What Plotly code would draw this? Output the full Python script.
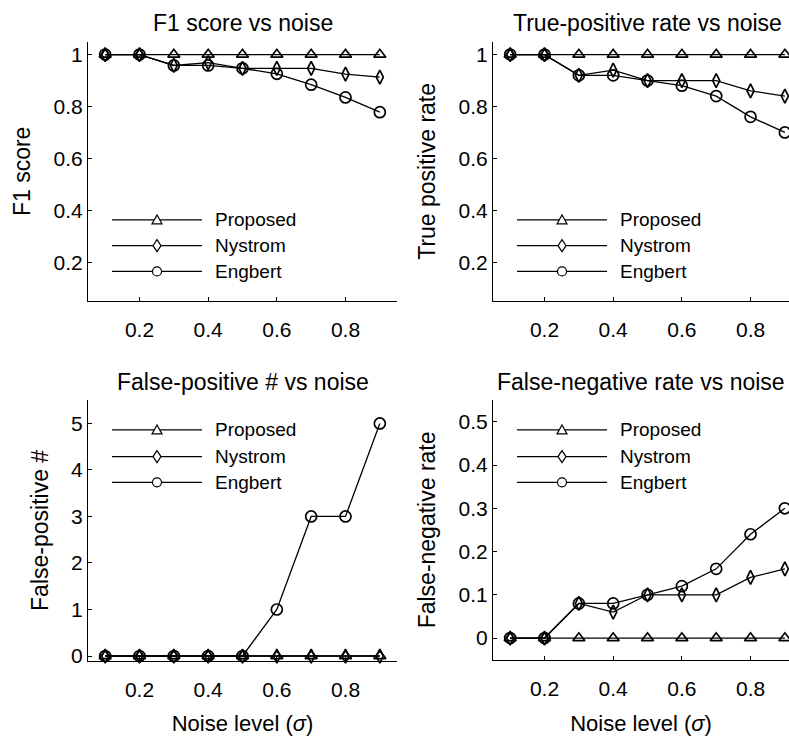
import plotly.graph_objects as go

# ---------------- data ----------------
noise = [0.1, 0.2, 0.3, 0.4, 0.5, 0.6, 0.7, 0.8, 0.9]
methods = ["Proposed", "Nystrom", "Engbert"]

f1_proposed = [1.0, 1.0, 1.0, 1.0, 1.0, 1.0, 1.0, 1.0, 1.0]
f1_nystrom = [1.0, 1.0, 0.958, 0.969, 0.947, 0.947, 0.947, 0.925, 0.913]
f1_engbert = [1.0, 1.0, 0.958, 0.958, 0.947, 0.926, 0.884, 0.835, 0.778]

tpr_proposed = [1.0, 1.0, 1.0, 1.0, 1.0, 1.0, 1.0, 1.0, 1.0]
tpr_nystrom = [1.0, 1.0, 0.92, 0.94, 0.90, 0.90, 0.90, 0.86, 0.84]
tpr_engbert = [1.0, 1.0, 0.92, 0.92, 0.90, 0.88, 0.84, 0.76, 0.70]

fp_proposed = [0, 0, 0, 0, 0, 0, 0, 0, 0]
fp_nystrom = [0, 0, 0, 0, 0, 0, 0, 0, 0]
fp_engbert = [0, 0, 0, 0, 0, 1, 3, 3, 5]

fnr_proposed = [0, 0, 0, 0, 0, 0, 0, 0, 0]
fnr_nystrom = [0, 0, 0.08, 0.06, 0.10, 0.10, 0.10, 0.14, 0.16]
fnr_engbert = [0, 0, 0.08, 0.08, 0.10, 0.12, 0.16, 0.24, 0.30]

x_ticks = [0.2, 0.4, 0.6, 0.8]
x_ticktext = ["0.2", "0.4", "0.6", "0.8"]
y_ticks_rate = [0.2, 0.4, 0.6, 0.8, 1.0]
y_ticktext_rate = ["0.2", "0.4", "0.6", "0.8", "1"]
y_ticks_fp = [0, 1, 2, 3, 4, 5]
y_ticktext_fp = ["0", "1", "2", "3", "4", "5"]
y_ticks_fnr = [0, 0.1, 0.2, 0.3, 0.4, 0.5]
y_ticktext_fnr = ["0", "0.1", "0.2", "0.3", "0.4", "0.5"]

titles = ["F1 score vs noise", "True-positive rate vs noise",
          "False-positive # vs noise", "False-negative rate vs noise"]
ylabels = ["F1 score", "True positive rate", "False-positive #", "False-negative rate"]
xlabel = "Noise level (<i>σ</i>)"

# ---------------- layout helpers ----------------
W, H = 789, 736
FONT = "Liberation Sans, Arial, Helvetica, sans-serif"
BLACK = "#000000"


def fx(px):
    # pixel x -> paper fraction
    return px / W


def fy(py):
    # pixel y (from top) -> paper fraction
    return 1 - py / H


# panel pixel boxes: (left, right, top, bottom)
panels = [
    (88, 397, 42, 304),
    (493, 789, 42, 304),
    (88, 397, 404, 667),
    (493, 789, 404, 666),
]
xranges = [[0.05, 0.95], [0.05, 0.912], [0.05, 0.95], [0.05, 0.912]]
yranges = [[0.05, 1.05], [0.05, 1.05], [-0.1, 5.5], [-0.05, 0.55]]
yticks = [(y_ticks_rate, y_ticktext_rate), (y_ticks_rate, y_ticktext_rate),
          (y_ticks_fp, y_ticktext_fp), (y_ticks_fnr, y_ticktext_fnr)]
series = [
    (f1_proposed, f1_nystrom, f1_engbert),
    (tpr_proposed, tpr_nystrom, tpr_engbert),
    (fp_proposed, fp_nystrom, fp_engbert),
    (fnr_proposed, fnr_nystrom, fnr_engbert),
]
symbols = ["triangle-up-open", "diamond-tall-open", "circle-open"]
sizes = [10.5, 10, 11]

fig = go.Figure()

for k in range(4):
    suffix = "" if k == 0 else str(k + 1)
    for i, m in enumerate(methods):
        fig.add_trace(go.Scatter(
            x=noise, y=series[k][i], name=m, mode="lines+markers",
            xaxis="x" + suffix, yaxis="y" + suffix, showlegend=False,
            line=dict(color=BLACK, width=1.3),
            marker=dict(symbol=symbols[i], size=sizes[i], color=BLACK,
                        line=dict(color=BLACK, width=1.7)),
            cliponaxis=False,
        ))

layout = dict(
    width=W, height=H, autosize=False,
    margin=dict(l=0, r=0, t=0, b=0, pad=0),
    paper_bgcolor="white", plot_bgcolor="white",
    font=dict(family=FONT, size=21, color=BLACK),
    showlegend=False,
)

annotations = []
shapes = []

for k in range(4):
    l, r, t, b = panels[k]
    suffix = "" if k == 0 else str(k + 1)
    xa = dict(
        domain=[max(0, fx(l)), min(1, fx(r))], range=xranges[k], anchor="y" + suffix,
        showline=True, linecolor=BLACK, linewidth=1, mirror=False,
        showgrid=False, zeroline=False,
        ticks="inside", ticklen=4, tickcolor=BLACK, tickwidth=1,
        tickmode="array", tickvals=x_ticks, ticktext=x_ticktext,
        tickfont=dict(size=21, family=FONT, color=BLACK),
        ticklabelstandoff=10,
    )
    if k >= 2:
        xa["title"] = dict(text=xlabel, font=dict(size=22, family=FONT, color=BLACK), standoff=16)
    ya = dict(
        domain=[fy(b), fy(t)], range=yranges[k], anchor="x" + suffix,
        showline=True, linecolor=BLACK, linewidth=1, mirror=False,
        showgrid=False, zeroline=False,
        ticks="inside", ticklen=4, tickcolor=BLACK, tickwidth=1,
        tickmode="array", tickvals=yticks[k][0], ticktext=yticks[k][1],
        tickfont=dict(size=21, family=FONT, color=BLACK),
        title=dict(text=ylabels[k], font=dict(size=23, family=FONT, color=BLACK), standoff=16),
    )
    layout["xaxis" + suffix] = xa
    layout["yaxis" + suffix] = ya

    # panel title (the right panels' axes run past the page edge)
    full_right = l + 309
    if k == 3:
        tpos, tanchor = fx(787), "right"
    else:
        tpos, tanchor = fx((l + full_right) / 2), "center"
    annotations.append(dict(
        text=titles[k], xref="paper", yref="paper",
        x=tpos, y=fy(23 if k < 2 else 386),
        xanchor=tanchor, yanchor="middle", showarrow=False,
        font=dict(size=23, family=FONT, color=BLACK),
    ))

    # legend drawn like the original: long line with the marker in its middle
    lx0, lx1, tx = l + 24, l + 114, l + 125
    rows = [222, 248, 274] if k < 2 else [434, 461, 487]
    for i, m in enumerate(methods):
        ry = rows[i]
        shapes.append(dict(type="line", xref="paper", yref="paper",
                           x0=fx(lx0), x1=fx(lx1), y0=fy(ry), y1=fy(ry),
                           line=dict(color=BLACK, width=1.1)))
        mx = (lx0 + lx1) / 2
        if i == 0:
            shapes.append(dict(type="path", path="M-5,-4 L5,-4 L0,5 Z",
                               xref="paper", yref="paper",
                               xsizemode="pixel", ysizemode="pixel",
                               xanchor=fx(mx), yanchor=fy(ry),
                               fillcolor="white", line=dict(color=BLACK, width=1.2)))
        elif i == 1:
            shapes.append(dict(type="path", path="M0,6 L4,0 L0,-6 L-4,0 Z",
                               xref="paper", yref="paper",
                               xsizemode="pixel", ysizemode="pixel",
                               xanchor=fx(mx), yanchor=fy(ry),
                               fillcolor="white", line=dict(color=BLACK, width=1.2)))
        else:
            shapes.append(dict(type="circle", xref="paper", yref="paper",
                               xsizemode="pixel", ysizemode="pixel",
                               xanchor=fx(mx), yanchor=fy(ry),
                               x0=-4.5, x1=4.5, y0=-4.5, y1=4.5,
                               fillcolor="white", line=dict(color=BLACK, width=1.2)))
        annotations.append(dict(
            text=m, xref="paper", yref="paper", x=fx(tx), y=fy(ry),
            xanchor="left", yanchor="middle", showarrow=False,
            font=dict(size=19, family=FONT, color=BLACK),
        ))

layout["annotations"] = annotations
layout["shapes"] = shapes
fig.update_layout(**layout)

# remove the default page margin so the 789x736 figure fills the window exactly
fig.write_html(
    "out.html",
    config={"displayModeBar": False},
    post_script="document.body.style.margin='0';",
)
